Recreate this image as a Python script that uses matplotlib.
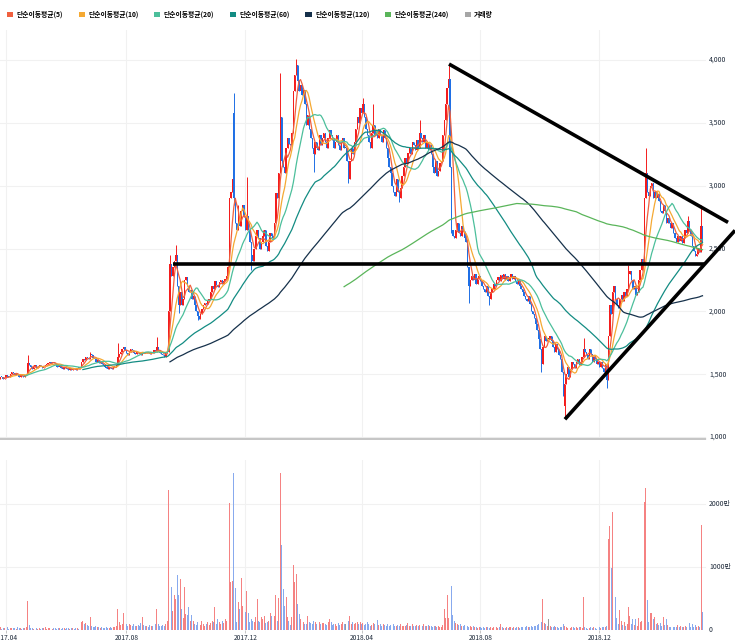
import numpy as np
import pandas as pd
import matplotlib
matplotlib.use("Agg")
import matplotlib.pyplot as plt
from matplotlib.patches import Patch

plt.rcParams["font.family"] = ["Noto Sans CJK KR", "DejaVu Sans"]

# daily closes (trading-day index 0..486)
closes = [
    1470, 1465, 1480, 1475, 1460, 1470, 1490, 1480, 1475, 1500,
    1520, 1510, 1495, 1505, 1490, 1480, 1500, 1485, 1475, 1490,
    1500, 1590, 1570, 1555, 1545, 1560, 1570, 1550, 1560, 1575,
    1565, 1550, 1560, 1570, 1580, 1590, 1600, 1585, 1595, 1590,
    1580, 1560, 1555, 1570, 1550, 1545, 1560, 1550, 1540, 1535,
    1550, 1530, 1545, 1540, 1535, 1550, 1545, 1560, 1600, 1620,
    1610, 1640, 1630, 1620, 1660, 1650, 1630, 1620, 1600, 1610,
    1590, 1600, 1580, 1570, 1560, 1550, 1545, 1560, 1550, 1540,
    1555, 1560, 1570, 1640, 1660, 1680, 1700, 1720, 1690, 1670,
    1650, 1680, 1700, 1690, 1670, 1660, 1680, 1670, 1660, 1650,
    1680, 1670, 1665, 1680, 1670, 1660, 1675, 1670, 1690, 1680,
    1720, 1690, 1670, 1660, 1650, 1640, 1670, 1680, 2000, 2380,
    2280, 2350, 2400, 2450, 2200, 2050, 2150, 2050, 2100, 2250,
    2270, 2200, 2150, 2170, 2100, 2120, 2050, 2000, 1960, 1940,
    1980, 2020, 2050, 2070, 2060, 2080, 2100, 2150, 2200, 2180,
    2240, 2210, 2190, 2230, 2250, 2220, 2240, 2260, 2280, 2350,
    2900, 2950, 3050, 2900, 2700, 2650, 2750, 2680, 2800, 2850,
    2750, 2650, 2760, 2650, 2550, 2450, 2400, 2500, 2600, 2650,
    2580, 2500, 2550, 2600, 2650, 2520, 2480, 2550, 2620, 2600,
    2580, 2700, 2940, 2900, 3100, 3550, 3200, 3150, 3100, 3300,
    3380, 3330, 3320, 3420, 3750, 3880, 3960, 3830, 3750, 3800,
    3720, 3760, 3650, 3480, 3560, 3450, 3380, 3300, 3250, 3350,
    3300, 3280, 3400, 3320, 3380, 3420, 3350, 3300, 3380, 3440,
    3400, 3360, 3300, 3350, 3400, 3320, 3280, 3350, 3380, 3300,
    3300, 3200, 3050, 3200, 3300, 3250, 3350, 3450, 3550, 3500,
    3620, 3580, 3650, 3550, 3450, 3400, 3350, 3300, 3420, 3480,
    3400, 3420, 3380, 3450, 3400, 3350, 3440, 3380, 3300, 3220,
    3150, 3100, 3000, 2950, 2920, 3050, 2950, 2900, 2980, 3080,
    3150, 3220, 3180, 3260, 3300, 3250, 3350, 3320, 3280, 3360,
    3300, 3420, 3380, 3350, 3400, 3300, 3350, 3280, 3320, 3250,
    3150, 3100, 3200, 3080, 3120, 3180, 3200, 3400, 3520, 3650,
    3780, 3850, 3150, 2650, 2600, 2580, 2650, 2700, 2620, 2600,
    2680, 2640, 2580, 2550, 2350, 2200, 2250, 2280, 2250, 2300,
    2220, 2260, 2280, 2240, 2200, 2180, 2150, 2200, 2120, 2100,
    2150, 2180, 2220, 2200, 2250, 2270, 2240, 2290, 2260, 2300,
    2250, 2280, 2240, 2270, 2300, 2260, 2280, 2240, 2220, 2250,
    2200, 2180, 2150, 2120, 2100, 2080, 2120, 2060, 2000, 1980,
    1950, 1900, 1850, 1780, 1700, 1580, 1720, 1800, 1760, 1780,
    1780, 1800, 1760, 1720, 1680, 1740, 1700, 1650, 1620, 1520,
    1330, 1420, 1500, 1560, 1480, 1540, 1600, 1580, 1550, 1600,
    1620, 1570, 1600, 1640, 1700, 1680, 1650, 1620, 1700, 1660,
    1600, 1640, 1620, 1580, 1600, 1560, 1600, 1550, 1520, 1580,
    1450, 1800, 2050, 1980, 2150, 2200, 2100, 2050, 2030, 2100,
    2130, 2080, 2150, 2120, 2180, 2300, 2320, 2250, 2180, 2200,
    2130, 2150, 2250, 2330, 2420, 2380, 2900, 3100, 2950, 2920,
    3000, 3020, 2900, 2950, 2900, 2930, 2880, 2800, 2780, 2850,
    2800, 2700, 2740, 2700, 2660, 2700, 2620, 2580, 2550, 2600,
    2560, 2600, 2540, 2580, 2650, 2620, 2720, 2640, 2600, 2520,
    2480, 2440, 2460, 2500, 2470, 2680, 2540,
]

# days where the open gapped away from the previous close
open_gaps = {163: 3580, 391: 1250}
# intraday extremes (wicks)
day_highs = {21: 1650, 64: 1680, 83: 1750, 110: 1795, 119: 2450, 123: 2530,
             163: 3740, 166: 2850, 172: 3070, 183: 2650, 195: 3900, 206: 4010,
             252: 3700, 259: 3650, 291: 3520, 311: 3960, 404: 1790, 435: 2370,
             447: 3300, 476: 2760, 485: 2850}
day_lows = {125: 1990, 138: 1930, 163: 2850, 175: 2330, 218: 3110, 242: 3020,
            277: 2870, 313: 2620, 325: 2065, 339: 2050, 375: 1520, 391: 1150,
            420: 1390}

# volume, in units of 만 (10,000 shares)
volumes = [
    30, 25, 40, 20, 35, 25, 30, 40, 20, 30,
    35, 25, 30, 20, 40, 30, 25, 20, 30, 35,
    40, 453, 80, 30, 25, 20, 30, 25, 20, 35,
    20, 30, 25, 40, 20, 30, 25, 35, 20, 25,
    30, 20, 25, 35, 20, 30, 25, 20, 30, 25,
    20, 25, 30, 20, 25, 35, 20, 100, 120, 150,
    90, 110, 80, 60, 213, 70, 50, 40, 60, 45,
    40, 35, 50, 30, 25, 40, 30, 35, 45, 30,
    40, 50, 60, 341, 120, 80, 100, 277, 180, 90,
    70, 100, 80, 60, 90, 70, 60, 80, 70, 110,
    213, 80, 60, 70, 50, 80, 70, 60, 90, 100,
    341, 90, 70, 60, 80, 70, 90, 150, 2228, 2516,
    682, 300, 554, 485, 869, 560, 805, 330, 190, 682,
    250, 240, 362, 150, 240, 150, 100, 80, 120, 90,
    80, 150, 100, 70, 90, 120, 80, 110, 150, 130,
    362, 100, 180, 120, 90, 150, 110, 180, 140, 380,
    2015, 762, 778, 2484, 670, 120, 450, 330, 831, 380,
    270, 290, 613, 270, 130, 180, 150, 120, 200, 485,
    150, 120, 200, 180, 220, 110, 130, 150, 270, 230,
    250, 220, 554, 150, 500, 2484, 1343, 645, 380, 522,
    210, 140, 80, 210, 1029, 757, 885, 410, 260, 180,
    150, 120, 100, 90, 220, 130, 110, 90, 150, 120,
    100, 80, 120, 90, 110, 110, 90, 80, 120, 180,
    120, 80, 100, 90, 70, 110, 80, 90, 120, 100,
    90, 110, 150, 220, 100, 120, 90, 110, 130, 100,
    120, 90, 110, 80, 100, 130, 90, 70, 80, 110,
    90, 100, 160, 80, 100, 70, 90, 80, 60, 90,
    70, 80, 60, 90, 70, 60, 80, 70, 90, 60,
    70, 60, 80, 110, 60, 70, 90, 60, 70, 80,
    60, 80, 70, 60, 90, 70, 60, 80, 60, 70,
    50, 60, 70, 40, 60, 50, 40, 80, 330, 190,
    549, 190, 981, 698, 240, 140, 110, 90, 80, 100,
    70, 60, 80, 150, 60, 50, 70, 40, 60, 50,
    40, 30, 50, 40, 30, 40, 30, 50, 40, 30,
    40, 30, 50, 30, 40, 30, 50, 90, 40, 30,
    30, 40, 30, 50, 40, 30, 40, 30, 50, 40,
    30, 40, 50, 30, 40, 60, 50, 40, 60, 50,
    70, 60, 80, 90, 100, 130, 485, 110, 90, 60,
    170, 60, 50, 40, 60, 50, 40, 30, 50, 40,
    100, 60, 40, 30, 40, 30, 50, 40, 30, 40,
    30, 40, 50, 30, 522, 40, 30, 20, 30, 40,
    30, 40, 30, 20, 30, 40, 30, 40, 50, 40,
    60, 1444, 1652, 981, 1866, 1205, 530, 190, 100, 310,
    140, 80, 120, 60, 100, 362, 230, 90, 170, 80,
    170, 60, 190, 120, 150, 682, 2025, 2260, 470, 120,
    270, 270, 170, 210, 100, 110, 80, 110, 60, 210,
    80, 170, 80, 50, 50, 110, 40, 40, 40, 80,
    40, 60, 40, 50, 60, 40, 592, 110, 40, 100,
    50, 80, 40, 60, 40, 1668, 288,
]

date_ticks = [6, 89, 171, 251, 333, 415]
date_labels = ["2017.04", "2017.08", "2017.12", "2018.04", "2018.08", "2018.12"]
price_ticks = [1000, 1500, 2000, 2500, 3000, 3500, 4000]
vol_ticks = [0, 1000, 2000]
vol_labels = ["0", "1000만", "2000만"]

ma_windows = [5, 10, 20, 60, 120, 240]
ma_colors = ["#f0603f", "#f5a933", "#4cbf9b", "#138c83", "#16314b", "#5ab55a"]

# hand-drawn analysis lines: (day, price) endpoints
support_line = [(121.1, 2377), (487.7, 2377)]
resistance_line = [(311.3, 3968), (503.6, 2708)]
rising_line = [(391.2, 1141), (508.4, 2644)]

df = pd.DataFrame({"close": closes, "volume": volumes})
df["open"] = df["close"].shift(1).fillna(df["close"].iloc[0])
for k, v in open_gaps.items():
    df.loc[k, "open"] = v
df["high"] = df[["open", "close"]].max(axis=1)
df["low"] = df[["open", "close"]].min(axis=1)
for k, v in day_highs.items():
    df.loc[k, "high"] = v
for k, v in day_lows.items():
    df.loc[k, "low"] = v
idx = np.arange(len(df))

up_col, dn_col, flat_col = "#f41c1c", "#1f6fe5", "#555555"
vol_up, vol_dn, vol_flat = "#f58282", "#88aaee", "#999999"
chg = df["close"] - df["open"]
cdl_colors = np.where(chg > 0, up_col, np.where(chg < 0, dn_col, flat_col))
vol_colors = np.where(chg > 0, vol_up, np.where(chg < 0, vol_dn, vol_flat))

fig = plt.figure(figsize=(7.35, 6.44), dpi=100)
ax = fig.add_axes([0, 204 / 644, 1, 410 / 644])
vax = fig.add_axes([0, 14 / 644, 1, 170 / 644])

xlim = (1.86, 508.4)
data_end_frac = 705 / 735
grid_col = "#f1f1f1"

# price panel
for p in price_ticks:
    ax.axhline(p, xmin=0, xmax=data_end_frac, color=grid_col, lw=0.8, zorder=0)
for t in date_ticks:
    ax.axvline(t, color=grid_col, lw=0.8, zorder=0)
    vax.axvline(t, color=grid_col, lw=0.8, zorder=0)

body_bottom = df[["open", "close"]].min(axis=1)
body_h = np.maximum((df["close"] - df["open"]).abs(), 8)
ax.vlines(idx, df["low"], df["high"], colors=cdl_colors, lw=0.7, zorder=2)
ax.bar(idx, body_h, bottom=body_bottom, width=0.9, color=cdl_colors,
       linewidth=0, zorder=2)

for w, c in zip(ma_windows, ma_colors):
    ma = df["close"].rolling(w).mean()
    ax.plot(idx, ma, color=c, lw=0.9, zorder=3)

for line in [support_line, resistance_line, rising_line]:
    xs, ys = zip(*line)
    ax.plot(xs, ys, color="black", lw=2.6, solid_capstyle="butt", zorder=5,
            clip_on=False)

ax.axhline(985, xmin=0, xmax=data_end_frac, color="#c6c6c6", lw=1.6, zorder=1)
ax.set_xlim(*xlim)
ax.set_ylim(976, 4239)
ax.axis("off")
for p in price_ticks:
    ax.text(709 / 735, p, f"{p:,}", transform=ax.get_yaxis_transform(),
            ha="left", va="center", fontsize=5.0, color="#1e2a3a")

# volume panel
for v in vol_ticks[1:]:
    vax.axhline(v, xmin=0, xmax=data_end_frac, color=grid_col, lw=0.8, zorder=0)
vax.bar(idx, df["volume"], width=0.65, color=vol_colors, linewidth=0, zorder=2)
vax.set_xlim(*xlim)
vax.set_ylim(0, 2698)
for s in vax.spines.values():
    s.set_visible(False)
vax.set_yticks([])
vax.set_xticks(date_ticks, date_labels)
vax.tick_params(axis="x", length=2, width=0.6, color="#bbbbbb", pad=1,
                labelsize=4.8, labelcolor="#1e2a3a")
for v, lab in zip(vol_ticks, vol_labels):
    vax.text(709 / 735, v, lab, transform=vax.get_yaxis_transform(),
             ha="left", va="center", fontsize=5.0, color="#1e2a3a")

# legend
names = [f"단순이동평균({w})" for w in ma_windows] + ["거래량"]
cols = ma_colors + ["#a6a6a6"]
handles = [Patch(facecolor=c, edgecolor="none", label=n) for n, c in zip(names, cols)]
fig.legend(handles=handles, loc="upper left", bbox_to_anchor=(7 / 735, 1 - 11 / 644),
           ncol=7, frameon=False, handlelength=0.9, handleheight=0.9,
           handletextpad=0.5, columnspacing=2.3, borderpad=0, borderaxespad=0,
           prop={"weight": "bold", "size": 4.9})

fig.savefig("out.png", dpi=100)
